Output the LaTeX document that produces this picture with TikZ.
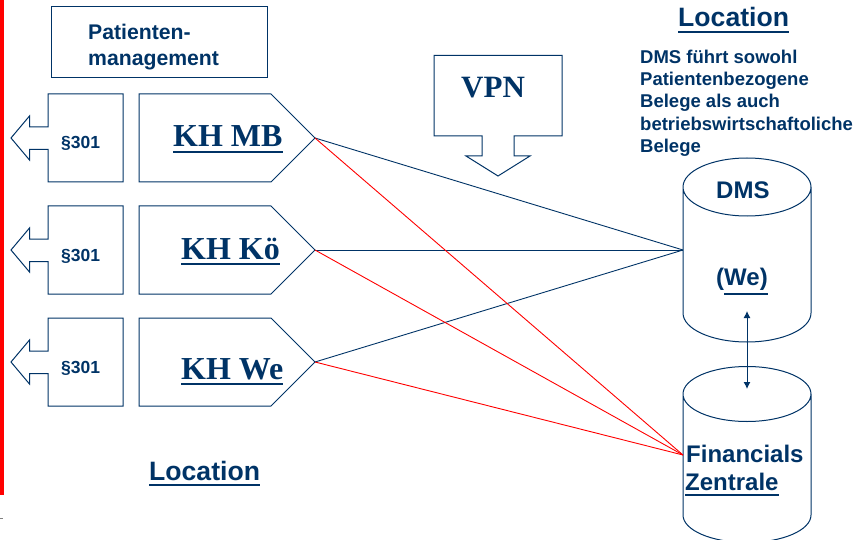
\documentclass[tikz,border=0pt]{standalone}
\usepackage{fontspec}
\setmainfont{Liberation Sans}
\newfontfamily\serifb{Liberation Serif}
\usetikzlibrary{arrows.meta}
\definecolor{navy}{HTML}{003366}
\newcommand\ulx[3]{\leavevmode\vtop{\hbox{#3}\kern #1\hrule height #2}}
\newcommand\cylshape[5]{% left x, right x, side top y, side bottom y, ry
  \draw[shape line] (#1,#3) arc[start angle=180,end angle=-180,x radius={(#2-#1)/2},y radius=#5]
    (#1,#3) -- (#1,#4) arc[start angle=180,end angle=0,x radius={(#2-#1)/2},y radius=#5] -- (#2,#3);}
\tikzset{
  shape line/.style={draw=navy,line width=1pt,line join=miter,fill=none},
  sanslabel/.style={inner sep=0pt,anchor=base west,text=navy,font=\bfseries},
  seriflabel/.style={inner sep=0pt,anchor=base west,text=navy,font=\serifb\bfseries},
  bluelink/.style={draw=navy,line width=0.9pt},
  redlink/.style={draw=red,line width=0.9pt},
  dbl/.style={draw=navy,line width=1pt,{Latex[length=7pt,width=7pt]}-{Latex[length=7pt,width=7pt]}}
}
\newcommand\fs[1]{\fontsize{#1}{#1}\selectfont}
\begin{document}
\begin{tikzpicture}[x=1pt,y=-1pt]
\useasboundingbox (0,0) rectangle (859,540);
\fill[red] (0,0) rectangle (3.5,495);
\draw[gray,line width=0.6pt] (0,518) -- (3,518);

% named connector ends
\coordinate (tipMB) at (315,138);
\coordinate (tipKo) at (315,250);
\coordinate (tipWe) at (315,362);
\coordinate (dmsIn) at (683,250);
\coordinate (finIn) at (683,455);
\coordinate (dmsOut) at (747,311);
\coordinate (finOut) at (747,389);

% patient management
\draw[shape line] (51,6.5) rectangle (267,78);
\node[sanslabel] (pat1) at (88,40) {\fs{21.2}Patienten-};
\node[sanslabel] (pat2) at (88,66) {\fs{21.2}management};

% row shapes
\foreach \dy in {0,112,224}{
  \begin{scope}[yshift=-\dy pt]
  \draw[shape line] (48,94) -- (123,94) -- (123,182) -- (48,182) -- (48,149.5) -- (29.5,149.5)
     -- (29.5,160) -- (11,138) -- (29.5,116) -- (29.5,127) -- (48,127) -- cycle;
  \draw[shape line] (139,94) -- (271,94) -- (315,138) -- (271,182) -- (139,182) -- cycle;
  \end{scope}
}
\node[sanslabel] (p1) at (61,149) {\fs{17.5}§301};
\node[sanslabel] (p2) at (61,261) {\fs{17.5}§301};
\node[sanslabel] (p3) at (61,373) {\fs{17.5}§301};
\node[seriflabel] (kh1) at (173,147) {\fs{32}\ulx{3.5pt}{2.5pt}{KH MB}};
\node[seriflabel] (kh2) at (181,259) {\fs{32}\ulx{3.5pt}{2.5pt}{KH Kö}};
\node[seriflabel] (kh3) at (181,379) {\fs{32}\ulx{3.5pt}{2.5pt}{KH We}};

% VPN
\draw[shape line] (434,55.5) -- (562,55.5) -- (562,136) -- (514,136) -- (514,156) -- (530,156)
   -- (498,176) -- (466,156) -- (482,156) -- (482,136) -- (434,136) -- cycle;
\node[seriflabel] (vpn) at (461,98) {\fs{31}VPN};

% Location headings
\node[sanslabel] (loc1) at (678,27) {\fs{26.6}\ulx{3.5pt}{2.5pt}{Location}};
\node[sanslabel] (loc2) at (149,480) {\fs{26.6}\ulx{3.5pt}{2.5pt}{Location}};

% description
\node[sanslabel] (d1) at (640,64) {\fs{18.5}DMS führt sowohl};
\node[sanslabel] (d2) at (640,86) {\fs{18.5}Patientenbezogene};
\node[sanslabel] (d3) at (640,108) {\fs{18.5}Belege als auch};
\node[sanslabel] (d4) at (640,130.5) {\fs{18.5}betriebswirtschaftoliche};
\node[sanslabel] (d5) at (640,153) {\fs{18.5}Belege};

% cylinders
\cylshape{683}{811}{187}{313}{29}
\cylshape{683}{811}{394}{515}{27.5}
\node[sanslabel] (dms) at (716,199) {\fs{24}DMS};
\node[sanslabel] (we) at (716,285) {\fs{24}(\ulx{3pt}{2.5pt}{We)}};
\node[sanslabel] (fin) at (686,462) {\fs{24}Financials};
\node[sanslabel] (zen) at (685,490) {\fs{24}\ulx{3.5pt}{2.5pt}{Zentrale}};

% connectors
\draw[bluelink] (tipMB) -- (dmsIn);
\draw[bluelink] (tipKo) -- (dmsIn);
\draw[bluelink] (tipWe) -- (dmsIn);
\draw[redlink] (tipMB) -- (finIn);
\draw[redlink] (tipKo) -- (finIn);
\draw[redlink] (tipWe) -- (finIn);
\draw[dbl] (dmsOut) -- (finOut);
\end{tikzpicture}
\end{document}
